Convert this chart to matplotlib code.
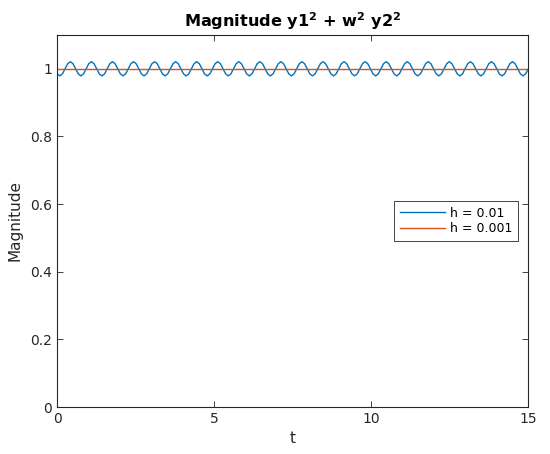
import numpy as np
import matplotlib
matplotlib.use('Agg')
import matplotlib.pyplot as plt

# h = 0.01 run: one row per oscillation (8 samples each)
t_end = 15.0
mag_h01 = [
    0.985, 0.979, 0.985, 1.000, 1.015, 1.021, 1.015, 1.000,
    0.985, 0.979, 0.985, 1.000, 1.015, 1.021, 1.015, 1.000,
    0.985, 0.979, 0.985, 1.000, 1.015, 1.021, 1.015, 1.000,
    0.985, 0.979, 0.985, 1.000, 1.015, 1.021, 1.015, 1.000,
    0.985, 0.979, 0.985, 1.000, 1.015, 1.021, 1.015, 1.000,
    0.985, 0.979, 0.985, 1.000, 1.015, 1.021, 1.015, 1.000,
    0.985, 0.979, 0.985, 1.000, 1.015, 1.021, 1.015, 1.000,
    0.985, 0.979, 0.985, 1.000, 1.015, 1.021, 1.015, 1.000,
    0.985, 0.979, 0.985, 1.000, 1.015, 1.021, 1.015, 1.000,
    0.985, 0.979, 0.985, 1.000, 1.015, 1.021, 1.015, 1.000,
    0.985, 0.979, 0.985, 1.000, 1.015, 1.021, 1.015, 1.000,
    0.985, 0.979, 0.985, 1.000, 1.015, 1.021, 1.015, 1.000,
    0.985, 0.979, 0.985, 1.000, 1.015, 1.021, 1.015, 1.000,
    0.985, 0.979, 0.985, 1.000, 1.015, 1.021, 1.015, 1.000,
    0.985, 0.979, 0.985, 1.000, 1.015, 1.021, 1.015, 1.000,
    0.985, 0.979, 0.985, 1.000, 1.015, 1.021, 1.015, 1.000,
    0.985, 0.979, 0.985, 1.000, 1.015, 1.021, 1.015, 1.000,
    0.985, 0.979, 0.985, 1.000, 1.015, 1.021, 1.015, 1.000,
    0.985, 0.979, 0.985, 1.000, 1.015, 1.021, 1.015, 1.000,
    0.985, 0.979, 0.985, 1.000, 1.015, 1.021, 1.015, 1.000,
    0.985, 0.979, 0.985, 1.000, 1.015, 1.021, 1.015, 1.000,
    0.985, 0.979, 0.985, 1.000, 1.015, 1.021, 1.015, 1.000,
    0.985, 0.979, 0.985, 1.000,
]
t_h01 = np.linspace(0, t_end, len(mag_h01))

# h = 0.001 run stays flat at 1
t_h001 = [0.0, 15.0]
mag_h001 = [1.0, 1.0]

labels = ['h = 0.01', 'h = 0.001']
xticks = [0, 5, 10, 15]
yticks = [0, 0.2, 0.4, 0.6, 0.8, 1]

dark = '#262626'
fig = plt.figure(figsize=(5.5, 4.54), dpi=100)
ax = fig.add_axes([0.104, 0.1035, 0.8565, 0.8195])

ax.plot(t_h01, mag_h01, color='#0072BD', lw=1.0, label=labels[0])
ax.plot(t_h001, mag_h001, color='#D95319', lw=1.0, label=labels[1])

ax.set_xlim(0, 15)
ax.set_ylim(0, 1.1)
ax.set_xticks(xticks)
ax.set_yticks(yticks)
ax.set_yticklabels([f'{v:g}' for v in yticks])
ax.tick_params(direction='in', top=True, right=True, labelsize=10,
               colors=dark, length=4, width=0.6)
for s in ax.spines.values():
    s.set_color(dark)
    s.set_linewidth(0.8)

ax.set_xlabel('t', fontsize=11, color=dark, labelpad=4)
ax.set_ylabel('Magnitude', fontsize=11, color=dark, labelpad=6)
ax.set_title(r'Magnitude y1$^\mathbf{2}$ + w$^\mathbf{2}$ y2$^\mathbf{2}$',
             fontsize=11.6, fontweight='bold', color='black', pad=6)

leg = ax.legend(loc='center right', bbox_to_anchor=(0.978, 0.5), fontsize=9,
                fancybox=False, framealpha=1, edgecolor=dark,
                handlelength=3.6, borderpad=0.45, labelspacing=0.2,
                handletextpad=0.4, borderaxespad=0)
leg.get_frame().set_linewidth(0.6)
for ln in leg.get_lines():
    ln.set_linewidth(1.0)

fig.savefig('out.png', dpi=100)
